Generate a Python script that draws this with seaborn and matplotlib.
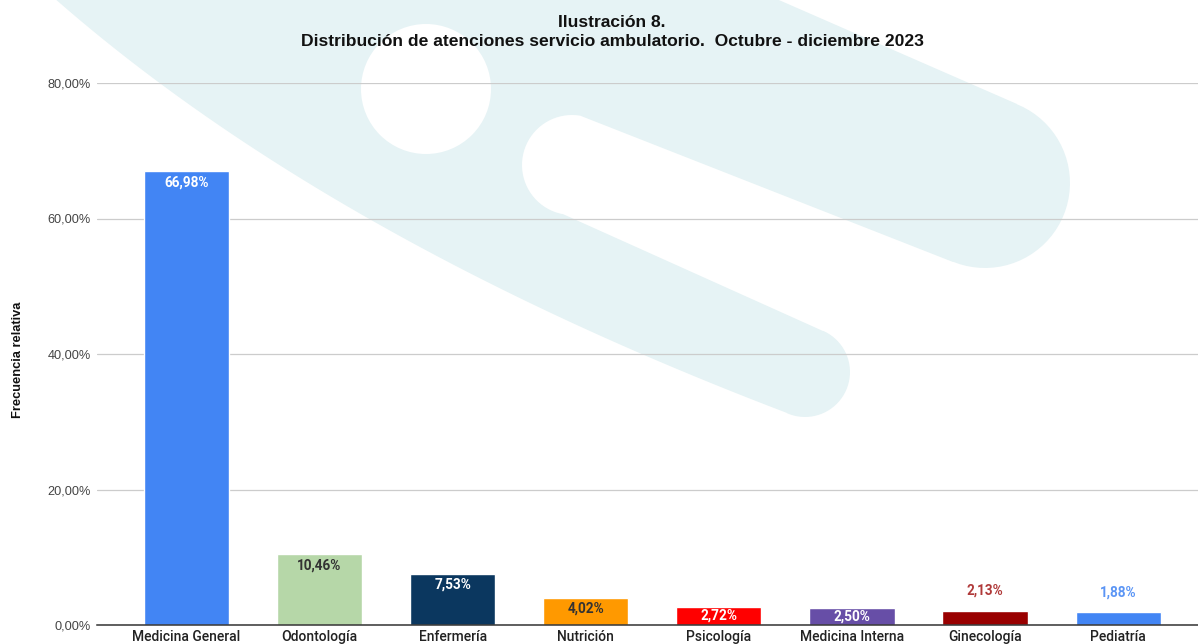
import numpy as np
import pandas as pd
import matplotlib
matplotlib.use("Agg")
import matplotlib.pyplot as plt
from matplotlib.patches import Polygon, Circle
from matplotlib.ticker import FuncFormatter
import seaborn as sns

# ---- data ----
categories = ["Medicina General", "Odontología", "Enfermería", "Nutrición",
              "Psicología", "Medicina Interna", "Ginecología", "Pediatría"]
values = [66.98, 10.46, 7.53, 4.02, 2.72, 2.50, 2.13, 1.88]
bar_colors = ["#4285f4", "#b6d7a8", "#0b375f", "#ff9900",
              "#ff0000", "#674ea7", "#990000", "#4285f4"]
label_colors = ["#ffffff", "#333333", "#ffffff", "#333333",
                "#ffffff", "#ffffff", "#b03a3a", "#5b95f5"]
label_texts = ["66,98%", "10,46%", "7,53%", "4,02%", "2,72%", "2,50%", "2,13%", "1,88%"]
yticks = [0, 20, 40, 60, 80]

title = "Ilustración 8.\nDistribución de atenciones servicio ambulatorio.  Octubre - diciembre 2023"
ylabel = "Frecuencia relativa"

df = pd.DataFrame({"cat": categories, "val": values})

sns.set_theme(style="white")
plt.rcParams["font.family"] = ["Liberation Sans", "DejaVu Sans"]

W, H = 1198, 644
fig = plt.figure(figsize=(W / 100, H / 100), dpi=100)
fig.patch.set_facecolor("white")

# ---- background watermark (decorative) ----
bg = fig.add_axes([0, 0, 1, 1], zorder=0)
bg.set_xlim(0, W)
bg.set_ylim(H, 0)
bg.axis("off")

def arc(cx, cy, r, a0, a1, n=40):
    t = np.radians(np.linspace(a0, a1, n))
    return list(zip(cx + r * np.cos(t), cy + r * np.sin(t)))

def qbez(p0, p1, p2, n=50):
    t = np.linspace(0, 1, n)[:, None]
    p0, p1, p2 = map(np.array, (p0, p1, p2))
    b = (1 - t) ** 2 * p0 + 2 * t * (1 - t) * p1 + t ** 2 * p2
    return [tuple(r) for r in b]

pts = [(45, -10), (756, -10), (1017, 104)]
pts += arc(985, 183, 85, -68, 112)
pts += [(953, 262), (581, 116)]
pts += arc(572, 165, 50, -80, -260)
pts += [(823, 331)]
pts += arc(805, 372, 45, -66, 114)
pts += qbez((787, 413), (320, 235), (45, -10))
teal = "#e6f3f5"
bg.add_patch(Polygon(pts, closed=True, facecolor=teal, edgecolor="none"))
bg.add_patch(Circle((426, 89), 65, facecolor="white", edgecolor="none"))

# ---- main chart ----
left_px, right_px, top_px, bot_px = 97, 1198, 83, 625
ax = fig.add_axes([left_px / W, 1 - bot_px / H, (right_px - left_px) / W,
                   (bot_px - top_px) / H], zorder=1)
ax.set_facecolor("none")

sns.barplot(data=df, x="cat", y="val", hue="cat", palette=bar_colors,
            width=0.64, legend=False, ax=ax, saturation=1, zorder=3)

ax.set_ylim(0, 80)
ax.set_xlim(-0.672, 7.60)
ax.set_yticks(yticks)
ax.yaxis.set_major_formatter(FuncFormatter(lambda v, p: f"{v:.2f}%".replace(".", ",")))
ax.grid(axis="y", color="#cccccc", linewidth=0.9, zorder=0)
ax.set_axisbelow(True)
for s in ["top", "right", "left"]:
    ax.spines[s].set_visible(False)
ax.spines["bottom"].set_color("#333333")
ax.spines["bottom"].set_linewidth(1.1)
ax.spines["bottom"].set_zorder(4)
ax.tick_params(axis="both", length=0)
ax.tick_params(axis="y", pad=4.5, labelsize=9.2, labelcolor="#444444")
ax.tick_params(axis="x", pad=3.5, labelsize=10, labelcolor="#222222")
for lab in ax.get_xticklabels():
    lab.set_fontfamily(["Roboto", "DejaVu Sans"])
    lab.set_fontweight("medium")
ax.set_xlabel("")
ax.set_ylabel("")

# data labels
px_per_unit = (bot_px - top_px) / 80.0
for i, (v, txt, c) in enumerate(zip(values, label_texts, label_colors)):
    h_px = v * px_per_unit
    if v < 2.3:
        off = 20
    else:
        off = -min(11, h_px / 2)
    ax.annotate(txt, (i, v), xytext=(0, off * 0.72), textcoords="offset points",
                ha="center", va="center", fontsize=9.8, fontweight="bold",
                color=c, family=["Roboto", "DejaVu Sans"], zorder=5)

fig.text(612 / W, 1 - 15 / H, title, ha="center", va="top", fontsize=12.6,
         fontweight="bold", color="#111111", linespacing=1.3)
fig.text(18 / W, 1 - 360 / H, ylabel, rotation=90, ha="center", va="center",
         fontsize=9.3, fontweight="bold", color="#111111")

fig.savefig("out.png", dpi=100)
